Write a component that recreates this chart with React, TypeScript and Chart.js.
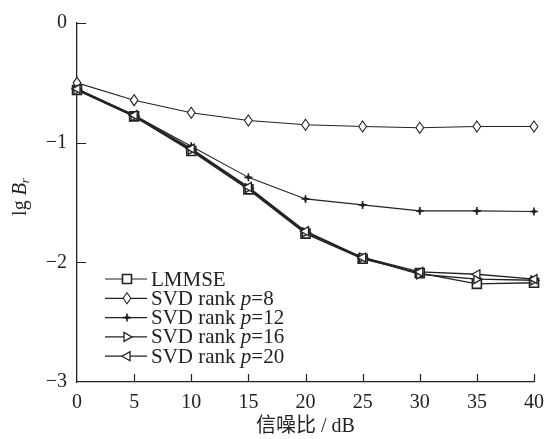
import React, { useEffect, useRef } from "react";
import { Chart, registerables } from "chart.js";

Chart.register(...registerables);

const snr = [0, 5, 10, 15, 20, 25, 30, 35, 40];
const lmmse = [-0.56, -0.78, -1.07, -1.39, -1.76, -1.97, -2.09, -2.18, -2.17];
const p8 = [-0.5, -0.645, -0.75, -0.815, -0.85, -0.865, -0.875, -0.865, -0.865];
const p12 = [-0.55, -0.77, -1.03, -1.29, -1.47, -1.52, -1.57, -1.57, -1.575];
const p16 = [-0.56, -0.78, -1.06, -1.38, -1.75, -1.96, -2.1, -2.14, -2.15];
const p20 = [-0.55, -0.77, -1.05, -1.37, -1.74, -1.96, -2.08, -2.1, -2.14];

const seriesNames = ["LMMSE", "SVD rank p=8", "SVD rank p=12", "SVD rank p=16", "SVD rank p=20"];
const legendParts = [
  ["LMMSE", "", ""],
  ["SVD rank ", "p", "=8"],
  ["SVD rank ", "p", "=12"],
  ["SVD rank ", "p", "=16"],
  ["SVD rank ", "p", "=20"],
];
const xTicks = [0, 5, 10, 15, 20, 25, 30, 35, 40];
const yTicks = [0, -1, -2, -3];

const SERIF = "'Liberation Serif', 'Times New Roman', 'Noto Sans CJK SC', serif";
const INK = "#222";
const FS = 20;
const LFS = 21;

const styles = [
  { pointStyle: "rect", radius: 4.5, rotation: 0, fill: "#fff", lw: 1.6 },
  { pointStyle: "rectRot", radius: 5.5, rotation: 0, fill: "#fff", lw: 1.1 },
  { pointStyle: "star", radius: 4, rotation: 0, fill: INK, lw: 1.6 },
  { pointStyle: "triangle", radius: 5, rotation: 90, fill: "#fff", lw: 1.3 },
  { pointStyle: "triangle", radius: 5, rotation: -90, fill: "#fff", lw: 1.3 },
];

function drawMarker(ctx: CanvasRenderingContext2D, st: any, x: number, y: number) {
  ctx.save();
  ctx.translate(x, y);
  ctx.rotate((st.rotation * Math.PI) / 180);
  ctx.lineWidth = st.lw;
  ctx.strokeStyle = INK;
  ctx.fillStyle = st.fill;
  const r = st.radius;
  ctx.beginPath();
  if (st.pointStyle === "rect") {
    ctx.rect(-r, -r, 2 * r, 2 * r);
    ctx.fill();
    ctx.stroke();
  } else if (st.pointStyle === "rectRot") {
    ctx.moveTo(0, -r);
    ctx.lineTo(r * 0.7, 0);
    ctx.lineTo(0, r);
    ctx.lineTo(-r * 0.7, 0);
    ctx.closePath();
    ctx.fill();
    ctx.stroke();
  } else if (st.pointStyle === "star") {
    ctx.moveTo(-r, 0);
    ctx.lineTo(r, 0);
    ctx.moveTo(0, -r);
    ctx.lineTo(0, r);
    ctx.stroke();
    ctx.beginPath();
    ctx.arc(0, 0, 2, 0, Math.PI * 2);
    ctx.fill();
  } else {
    const h = r;
    ctx.moveTo(0, -h);
    ctx.lineTo(h * 0.9, h * 0.6);
    ctx.lineTo(-h * 0.9, h * 0.6);
    ctx.closePath();
    ctx.fill();
    ctx.stroke();
  }
  ctx.restore();
}

const customPlugin = {
  id: "customDeco",
  afterDraw(chart: any) {
    const ctx: CanvasRenderingContext2D = chart.ctx;
    const xs = chart.scales.x;
    const ys = chart.scales.y;
    const area = chart.chartArea;
    ctx.save();
    // inward ticks
    ctx.strokeStyle = INK;
    ctx.lineWidth = 1.2;
    ctx.beginPath();
    for (const t of xTicks) {
      if (t === 0) continue;
      const px = Math.round(xs.getPixelForValue(t)) + 0.5;
      ctx.moveTo(px, area.bottom);
      ctx.lineTo(px, area.bottom - 8);
    }
    for (const t of yTicks) {
      if (t === -3) continue;
      const py = Math.round(ys.getPixelForValue(t)) + 0.5;
      ctx.moveTo(area.left, py);
      ctx.lineTo(area.left + 9, py);
    }
    ctx.stroke();

    // markers on data
    chart.data.datasets.forEach((ds: any, i: number) => {
      const meta = chart.getDatasetMeta(i);
      meta.data.forEach((pt: any) => drawMarker(ctx, styles[i], pt.x, pt.y));
    });

    // legend
    const lx0 = 105;
    const lx1 = 147;
    const mx = 127;
    const tx = 151;
    const y0 = 279;
    const dy = 19.3;
    ctx.textBaseline = "middle";
    ctx.textAlign = "left";
    legendParts.forEach((parts, i) => {
      const y = y0 + i * dy;
      ctx.strokeStyle = INK;
      ctx.lineWidth = 1.2;
      ctx.beginPath();
      ctx.moveTo(lx0, y);
      ctx.lineTo(lx1, y);
      ctx.stroke();
      drawMarker(ctx, styles[i], mx, y);
      ctx.fillStyle = INK;
      let x = tx;
      ctx.font = `${LFS}px ${SERIF}`;
      ctx.fillText(parts[0], x, y + 1);
      x += ctx.measureText(parts[0]).width;
      if (parts[1]) {
        ctx.font = `italic ${LFS}px ${SERIF}`;
        ctx.fillText(parts[1], x, y + 1);
        x += ctx.measureText(parts[1]).width;
        ctx.font = `${LFS}px ${SERIF}`;
        ctx.fillText(parts[2], x, y + 1);
      }
    });

    // y title: lg B_r
    ctx.translate(21, 197);
    ctx.rotate(-Math.PI / 2);
    ctx.fillStyle = INK;
    ctx.textBaseline = "middle";
    const a = "lg ";
    const b = "B";
    ctx.font = `italic ${FS}px ${SERIF}`;
    const wb = ctx.measureText(b).width;
    ctx.font = `italic 13px ${SERIF}`;
    const wr = ctx.measureText("r").width;
    ctx.font = `${FS}px ${SERIF}`;
    const wa = ctx.measureText(a).width;
    let x = -(wa + wb + wr) / 2;
    ctx.fillText(a, x, 0);
    x += wa;
    ctx.font = `italic ${FS}px ${SERIF}`;
    ctx.fillText(b, x, 0);
    x += wb;
    ctx.font = `italic 13px ${SERIF}`;
    ctx.fillText("r", x, 5);
    ctx.restore();
  },
};

export default function App() {
  const ref = useRef<HTMLCanvasElement | null>(null);
  useEffect(() => {
    if (!ref.current) return;
    const mk = (arr: number[]) => snr.map((x, i) => ({ x, y: arr[i] }));
    const all = [lmmse, p8, p12, p16, p20];
    const chart = new Chart(ref.current, {
      type: "line",
      data: {
        datasets: all.map((arr, i) => ({
          label: seriesNames[i],
          data: mk(arr),
          borderColor: INK,
          borderWidth: i === 1 || i === 2 ? 1.1 : 1.4,
          pointRadius: 0,
          pointHoverRadius: 0,
          fill: false,
          tension: 0,
        })),
      },
      options: {
        animation: false,
        responsive: false,
        events: [],
        layout: { padding: { top: 23, right: 11, left: 0, bottom: 0 } },
        plugins: { legend: { display: false }, tooltip: { enabled: false } },
        scales: {
          x: {
            type: "linear",
            min: 0,
            max: 40,
            grid: { display: false, drawTicks: false },
            border: { display: true, color: INK, width: 1.3 },
            afterBuildTicks: (s: any) => {
              s.ticks = xTicks.map((v) => ({ value: v }));
            },
            afterFit: (s: any) => {
              s.height = 57;
              s.paddingLeft = 0;
              s.paddingRight = 0;
            },
            ticks: {
              padding: 9,
              color: INK,
              font: { family: SERIF, size: FS },
              maxRotation: 0,
              autoSkip: false,
            },
            title: {
              display: true,
              text: "信噪比 / dB",
              color: INK,
              font: { family: SERIF, size: FS },
              padding: { top: 0, bottom: 0 },
            },
          },
          y: {
            type: "linear",
            min: -3,
            max: 0,
            grid: { display: false, drawTicks: false },
            border: { display: true, color: INK, width: 1.3 },
            afterBuildTicks: (s: any) => {
              s.ticks = yTicks.map((v) => ({ value: v }));
            },
            afterFit: (s: any) => {
              s.width = 77;
              s.paddingTop = 0;
              s.paddingBottom = 0;
            },
            ticks: {
              padding: 10,
              color: INK,
              font: { family: SERIF, size: FS },
              callback: (v: any) => (Number(v) < 0 ? "\u2212" + Math.abs(Number(v)) : String(v)),
            },
          },
        },
      },
      plugins: [customPlugin],
    } as any);
    return () => chart.destroy();
  }, []);
  return (
    <div style={{ position: "fixed", left: 0, top: 0, width: 545, height: 439, background: "#fff" }}>
      <canvas ref={ref} width={545} height={439} style={{ display: "block" }} />
    </div>
  );
}
